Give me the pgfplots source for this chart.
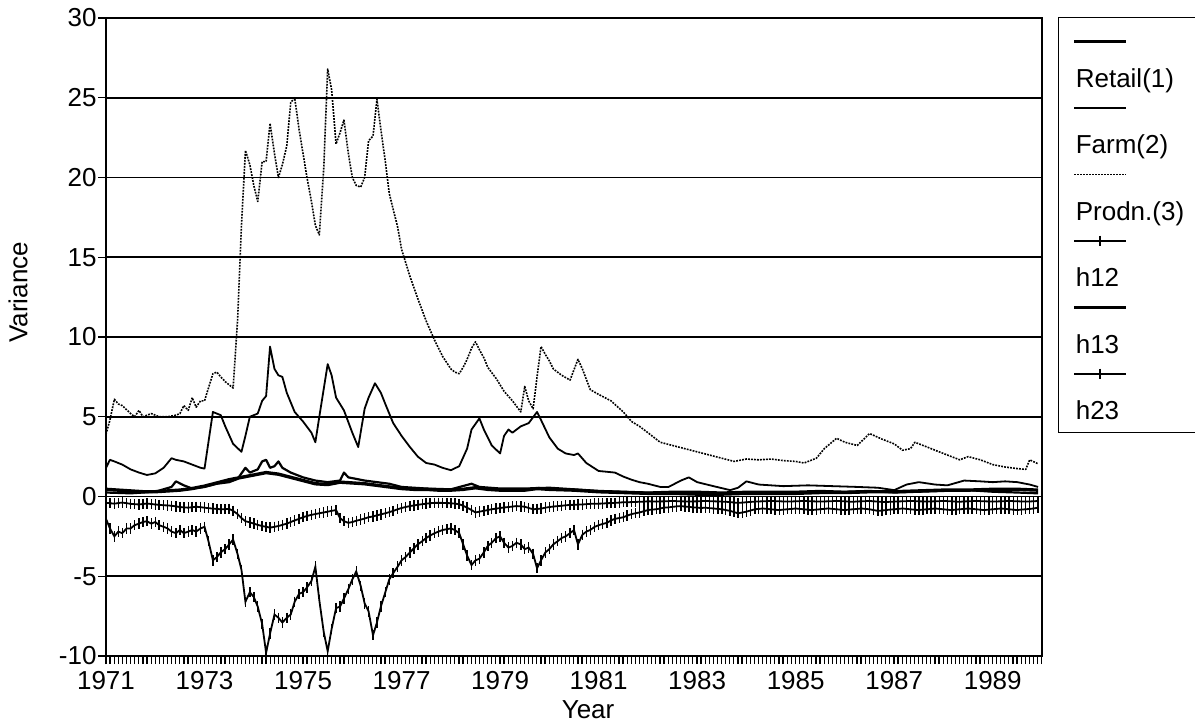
\documentclass[border=0pt]{standalone}
\usepackage{fontspec}
\setmainfont{Liberation Sans}
\usepackage{pgfplots}
\pgfplotsset{compat=1.18}

\begin{document}
\begin{tikzpicture}[font=\fontsize{13pt}{15pt}\selectfont]
\path[use as bounding box] (-53pt,-34.5pt) rectangle (544.5pt,328pt);
\begin{axis}[
    at={(0,0)}, anchor=south west,
    scale only axis, width=468pt, height=319pt,
    xmin=1971, xmax=1990, ymin=-10, ymax=30,
    xtick={1971,1973,...,1989},
    xticklabels={1971,1973,1975,1977,1979,1981,1983,1985,1987,1989},
    minor xtick={1971,1971.0833333,...,1990},
    ytick={-10,-5,...,30},
    yticklabels={-10,-5,0,5,10,15,20,25,30},
    ymajorgrids,
    major grid style={black, line width=0.8pt},
    axis line style={line width=0.6pt},
    tick align=outside, xtick pos=bottom, ytick pos=left,
    major tick length=4pt, minor tick length=4pt,
    tick style={black, line width=0.6pt},
    xticklabel style={yshift=0pt},
    yticklabel style={xshift=2.8pt},
    xlabel={Year}, ylabel={Variance},
    every axis x label/.style={at={(axis description cs:0.515,0)}, yshift=-31pt, anchor=base},
    every axis y label/.style={at={(axis description cs:0,0.57)}, xshift=-44pt, rotate=90, anchor=center},
    legend style={at={(1,1)}, anchor=north west, xshift=8pt, yshift=0.5pt,
        draw=black, inner xsep=7pt, inner ysep=4pt, row sep=0.25pt, column sep=0pt,
        cells={anchor=base west},
        nodes={text height=31pt, text depth=2pt, inner sep=0pt, text width=53.5pt, align=left}},
    legend image code/.code={\path (0pt,0pt);
        \draw[mark repeat=2,mark phase=2,#1,overlay] plot coordinates {(0pt,23pt) (13pt,23pt) (26pt,23pt)};},
]

% Retail(1)
\addplot[black, line width=1.7pt, line join=round] coordinates {
(1971.00,0.45) (1971.25,0.40) (1971.50,0.35) (1971.75,0.30) (1972.00,0.30)
(1972.25,0.35) (1972.50,0.40) (1972.75,0.50) (1973.00,0.65) (1973.25,0.85)
(1973.50,1.05) (1973.75,1.20) (1974.00,1.35) (1974.25,1.50) (1974.50,1.40)
(1974.75,1.20) (1975.00,1.00) (1975.25,0.80) (1975.50,0.75) (1975.75,0.90)
(1976.00,0.85) (1976.25,0.80) (1976.50,0.70) (1976.75,0.60) (1977.00,0.50)
(1977.25,0.45) (1977.50,0.45) (1977.75,0.40) (1978.00,0.40) (1978.25,0.45)
(1978.50,0.55) (1978.75,0.45) (1979.00,0.40) (1979.50,0.40) (1979.75,0.50)
(1980.00,0.45) (1980.50,0.40) (1981.00,0.30) (1981.50,0.25) (1982.00,0.20)
(1982.50,0.20) (1983.00,0.15) (1983.50,0.15) (1984.00,0.20) (1984.50,0.20)
(1985.00,0.20) (1985.50,0.25) (1986.00,0.25) (1986.50,0.30) (1987.00,0.30)
(1987.50,0.35) (1988.00,0.40) (1988.50,0.40) (1989.00,0.45) (1989.50,0.45)
(1989.92,0.40)
};
\addlegendentry{Retail(1)}

% Farm(2)
\addplot[black, line width=0.9pt, line join=round] coordinates {
(1971.00,1.80) (1971.08,2.30) (1971.17,2.20) (1971.33,2.00) (1971.50,1.70)
(1971.67,1.50) (1971.83,1.35) (1972.00,1.45) (1972.17,1.80) (1972.33,2.40)
(1972.42,2.30) (1972.58,2.20) (1972.75,2.00) (1972.92,1.80) (1973.00,1.75)
(1973.17,5.30) (1973.33,5.10) (1973.42,4.40) (1973.58,3.30) (1973.75,2.80)
(1973.83,3.80) (1973.92,5.00) (1974.00,5.10) (1974.08,5.20) (1974.17,6.00)
(1974.25,6.30) (1974.33,9.40) (1974.42,8.00) (1974.50,7.60) (1974.58,7.50)
(1974.67,6.50) (1974.83,5.30) (1975.00,4.70) (1975.17,4.00) (1975.25,3.40)
(1975.33,5.00) (1975.50,8.30) (1975.58,7.60) (1975.67,6.20) (1975.83,5.40)
(1976.00,4.00) (1976.12,3.10) (1976.25,5.50) (1976.33,6.20) (1976.46,7.10)
(1976.58,6.50) (1976.67,5.80) (1976.83,4.60) (1977.00,3.80) (1977.17,3.10)
(1977.33,2.50) (1977.50,2.10) (1977.67,2.00) (1977.83,1.80) (1978.00,1.65)
(1978.17,1.90) (1978.33,3.00) (1978.42,4.20) (1978.58,4.90) (1978.67,4.20)
(1978.83,3.20) (1979.00,2.70) (1979.08,3.80) (1979.17,4.20) (1979.25,4.00)
(1979.42,4.40) (1979.58,4.60) (1979.75,5.30) (1979.83,4.80) (1980.00,3.70)
(1980.17,3.00) (1980.33,2.70) (1980.50,2.60) (1980.58,2.70) (1980.75,2.10)
(1981.00,1.60) (1981.17,1.55) (1981.33,1.50) (1981.50,1.25) (1981.67,1.05)
(1981.83,0.90) (1982.00,0.80) (1982.25,0.60) (1982.42,0.60) (1982.67,1.00)
(1982.83,1.20) (1983.00,0.90) (1983.33,0.65) (1983.67,0.40) (1983.83,0.55)
(1984.00,0.95) (1984.25,0.75) (1984.75,0.65) (1985.25,0.70) (1985.75,0.65)
(1986.25,0.60) (1986.67,0.55) (1987.00,0.40) (1987.25,0.75) (1987.50,0.90)
(1987.83,0.75) (1988.08,0.70) (1988.42,1.00) (1988.75,0.95) (1989.00,0.90)
(1989.25,0.95) (1989.50,0.90) (1989.75,0.75) (1989.92,0.60)
};
\addlegendentry{Farm(2)}

% Prodn.(3)
\addplot[black, line width=0.8pt, dash pattern=on 0.9pt off 0.6pt, line join=round] coordinates {
(1971.00,3.90) (1971.08,4.80) (1971.17,6.10) (1971.25,5.80) (1971.33,5.70)
(1971.50,5.20) (1971.58,5.00) (1971.67,5.40) (1971.75,5.00) (1971.92,5.20)
(1972.08,5.00) (1972.25,5.00) (1972.42,5.10) (1972.50,5.20) (1972.58,5.70)
(1972.67,5.40) (1972.75,6.20) (1972.83,5.60) (1972.92,6.00) (1973.00,6.00)
(1973.08,6.80) (1973.17,7.70) (1973.25,7.80) (1973.33,7.50) (1973.42,7.20)
(1973.58,6.80) (1973.67,11.0) (1973.75,17.0) (1973.83,21.7) (1973.92,20.8)
(1974.00,19.5) (1974.08,18.5) (1974.17,21.0) (1974.25,21.0) (1974.33,23.4)
(1974.42,21.5) (1974.50,20.0) (1974.58,20.8) (1974.67,22.0) (1974.75,24.7)
(1974.83,25.0) (1974.92,23.0) (1975.00,21.5) (1975.08,20.0) (1975.17,18.5)
(1975.25,17.0) (1975.33,16.4) (1975.42,20.6) (1975.50,26.8) (1975.58,25.5)
(1975.67,22.1) (1975.75,22.8) (1975.83,23.6) (1975.92,21.5) (1976.00,20.0)
(1976.08,19.5) (1976.17,19.4) (1976.25,20.0) (1976.33,22.3) (1976.42,22.6)
(1976.50,24.9) (1976.58,23.0) (1976.67,21.0) (1976.75,19.0) (1976.83,18.0)
(1976.92,16.9) (1977.00,15.5) (1977.17,13.8) (1977.33,12.4) (1977.50,11.0)
(1977.67,9.80) (1977.83,8.80) (1978.00,8.00) (1978.08,7.80) (1978.17,7.70)
(1978.25,8.10) (1978.33,8.60) (1978.42,9.30) (1978.50,9.70) (1978.58,9.20)
(1978.67,8.70) (1978.75,8.10) (1978.92,7.40) (1979.08,6.60) (1979.25,6.00)
(1979.42,5.30) (1979.50,6.90) (1979.58,6.00) (1979.67,5.50) (1979.75,7.50)
(1979.83,9.40) (1979.92,8.90) (1980.00,8.50) (1980.08,8.00) (1980.25,7.60)
(1980.42,7.30) (1980.58,8.60) (1980.67,8.00) (1980.83,6.70) (1981.00,6.40)
(1981.25,6.00) (1981.50,5.30) (1981.67,4.70) (1981.83,4.40) (1982.00,4.00)
(1982.25,3.40) (1982.50,3.20) (1982.75,3.00) (1983.00,2.80) (1983.25,2.60)
(1983.50,2.40) (1983.75,2.20) (1984.00,2.35) (1984.25,2.30) (1984.50,2.35)
(1984.75,2.25) (1985.00,2.20) (1985.17,2.10) (1985.42,2.40) (1985.58,3.00)
(1985.83,3.65) (1986.00,3.40) (1986.25,3.20) (1986.50,3.95) (1986.75,3.60)
(1987.00,3.30) (1987.17,2.90) (1987.33,3.00) (1987.42,3.40) (1987.67,3.10)
(1987.83,2.90) (1988.08,2.60) (1988.33,2.30) (1988.50,2.50) (1988.75,2.30)
(1989.00,2.00) (1989.25,1.85) (1989.50,1.75) (1989.67,1.70) (1989.75,2.30)
(1989.92,2.05)
};
\addlegendentry{Prodn.(3)}

% h12
\addplot[black, line width=0.9pt, mark=|, mark size=2.6pt, mark options={solid, line width=0.75pt}] coordinates {
(1971.00,-1.40) (1971.08,-2.00) (1971.17,-2.50) (1971.25,-2.20) (1971.33,-2.30)
(1971.42,-2.00) (1971.50,-2.00) (1971.58,-1.80) (1971.67,-1.70) (1971.75,-1.60)
(1971.83,-1.55) (1971.92,-1.70) (1972.00,-1.60) (1972.08,-1.80) (1972.17,-1.90)
(1972.25,-2.00) (1972.33,-2.20) (1972.42,-2.30) (1972.50,-2.10) (1972.58,-2.30)
(1972.67,-2.20) (1972.75,-2.10) (1972.83,-2.20) (1972.92,-2.00) (1973.00,-1.90)
(1973.08,-2.80) (1973.17,-4.00) (1973.25,-3.80) (1973.33,-3.50) (1973.42,-3.30)
(1973.50,-3.00) (1973.58,-2.70) (1973.67,-3.60) (1973.75,-4.60) (1973.83,-6.60)
(1973.92,-6.00) (1974.00,-6.30) (1974.08,-6.90) (1974.17,-8.00) (1974.25,-9.80)
(1974.33,-8.60) (1974.42,-7.40) (1974.50,-7.60) (1974.58,-7.90) (1974.67,-7.60)
(1974.75,-7.40) (1974.83,-6.60) (1974.92,-6.10) (1975.00,-6.00) (1975.08,-5.70)
(1975.17,-5.30) (1975.25,-4.40) (1975.33,-6.50) (1975.42,-8.50) (1975.50,-9.70)
(1975.58,-8.30) (1975.67,-7.00) (1975.75,-6.90) (1975.83,-6.40) (1975.92,-5.80)
(1976.00,-5.20) (1976.08,-4.70) (1976.17,-5.60) (1976.25,-6.70) (1976.33,-7.20)
(1976.42,-8.70) (1976.50,-7.90) (1976.58,-6.90) (1976.67,-6.00) (1976.75,-5.20)
(1976.83,-4.80) (1976.92,-4.40) (1977.00,-4.00) (1977.08,-3.80) (1977.17,-3.50)
(1977.25,-3.25) (1977.33,-3.00) (1977.42,-2.80) (1977.50,-2.60) (1977.58,-2.45)
(1977.67,-2.30) (1977.75,-2.20) (1977.83,-2.10) (1977.92,-2.05) (1978.00,-2.00)
(1978.08,-2.10) (1978.17,-2.30) (1978.25,-3.00) (1978.33,-3.70) (1978.42,-4.30)
(1978.50,-4.00) (1978.58,-3.90) (1978.67,-3.50) (1978.75,-3.10) (1978.83,-2.90)
(1978.92,-2.60) (1979.00,-2.50) (1979.08,-2.90) (1979.17,-3.20) (1979.25,-3.10)
(1979.33,-2.90) (1979.42,-3.00) (1979.50,-3.30) (1979.58,-3.20) (1979.67,-3.60)
(1979.75,-4.50) (1979.83,-4.00) (1979.92,-3.50) (1980.00,-3.30) (1980.08,-3.00)
(1980.17,-2.80) (1980.25,-2.60) (1980.33,-2.50) (1980.42,-2.30) (1980.50,-2.10)
(1980.58,-3.00) (1980.67,-2.40) (1980.75,-2.20) (1980.83,-2.10) (1980.92,-1.90)
(1981.00,-1.80) (1981.08,-1.72) (1981.17,-1.65) (1981.25,-1.50) (1981.33,-1.40)
(1981.42,-1.35) (1981.50,-1.30) (1981.58,-1.20) (1981.67,-1.10) (1981.75,-1.05)
(1981.83,-1.00) (1981.92,-0.92)
(1982.00,-0.85) (1982.08,-0.82) (1982.17,-0.80) (1982.25,-0.75) (1982.33,-0.70) (1982.42,-0.68)
(1982.50,-0.65) (1982.58,-0.62) (1982.67,-0.60) (1982.75,-0.63) (1982.83,-0.65) (1982.92,-0.68)
(1983.00,-0.70) (1983.08,-0.72) (1983.17,-0.70) (1983.25,-0.73) (1983.33,-0.75) (1983.42,-0.78)
(1983.50,-0.80) (1983.58,-0.85) (1983.67,-0.90) (1983.75,-0.98) (1983.83,-1.05) (1983.92,-1.00)
(1984.00,-0.95) (1984.08,-0.88) (1984.17,-0.80) (1984.25,-0.78) (1984.33,-0.75) (1984.42,-0.78)
(1984.50,-0.80) (1984.58,-0.83) (1984.67,-0.85) (1984.75,-0.82) (1984.83,-0.80) (1984.92,-0.78)
(1985.00,-0.75) (1985.08,-0.78) (1985.17,-0.80) (1985.25,-0.83) (1985.33,-0.85) (1985.42,-0.82)
(1985.50,-0.80) (1985.58,-0.77) (1985.67,-0.75) (1985.75,-0.78) (1985.83,-0.80) (1985.92,-0.83)
(1986.00,-0.85) (1986.08,-0.82) (1986.17,-0.80) (1986.25,-0.78) (1986.33,-0.75) (1986.42,-0.78)
(1986.50,-0.80) (1986.58,-0.85) (1986.67,-0.90) (1986.75,-0.88) (1986.83,-0.85) (1986.92,-0.82)
(1987.00,-0.80) (1987.08,-0.78) (1987.17,-0.75) (1987.25,-0.78) (1987.33,-0.80) (1987.42,-0.83)
(1987.50,-0.85) (1987.58,-0.82) (1987.67,-0.80) (1987.75,-0.78) (1987.83,-0.75) (1987.92,-0.78)
(1988.00,-0.80) (1988.08,-0.83) (1988.17,-0.85) (1988.25,-0.82) (1988.33,-0.80) (1988.42,-0.78)
(1988.50,-0.75) (1988.58,-0.78) (1988.67,-0.80) (1988.75,-0.83) (1988.83,-0.85) (1988.92,-0.82)
(1989.00,-0.80) (1989.08,-0.78) (1989.17,-0.75) (1989.25,-0.78) (1989.33,-0.80) (1989.42,-0.83)
(1989.50,-0.85) (1989.58,-0.82) (1989.67,-0.80) (1989.75,-0.78) (1989.83,-0.75) (1989.92,-0.70)
};
\addlegendentry{h12}

% h13
\addplot[black, line width=1.1pt, line join=round] coordinates {
(1971.00,0.25) (1971.50,0.20) (1972.00,0.30) (1972.33,0.60) (1972.42,0.95)
(1972.58,0.70) (1972.75,0.50) (1973.00,0.60) (1973.25,0.80) (1973.50,0.90)
(1973.67,1.10) (1973.83,1.80) (1973.92,1.50) (1974.00,1.60) (1974.08,1.70)
(1974.17,2.20) (1974.25,2.30) (1974.33,1.80) (1974.42,1.90) (1974.50,2.20)
(1974.58,1.80) (1974.75,1.50) (1975.00,1.20) (1975.25,1.00) (1975.50,0.90)
(1975.75,1.00) (1975.83,1.50) (1975.92,1.20) (1976.25,1.00) (1976.50,0.90)
(1976.75,0.80) (1977.00,0.60) (1977.50,0.50) (1978.00,0.45) (1978.42,0.80)
(1978.58,0.60) (1979.00,0.50) (1979.50,0.50) (1980.00,0.55) (1980.50,0.45)
(1981.00,0.35) (1981.50,0.30) (1982.00,0.25) (1982.50,0.30) (1983.00,0.30)
(1983.50,0.25) (1984.00,0.30) (1984.50,0.30) (1985.00,0.30) (1985.50,0.35)
(1986.00,0.30) (1986.50,0.35) (1987.00,0.25) (1987.50,0.30) (1988.00,0.35)
(1988.50,0.40) (1989.00,0.30) (1989.50,0.25) (1989.92,0.20)
};
\addlegendentry{h13}

% h23
\addplot[black, line width=0.9pt, mark=|, mark size=2.6pt, mark options={solid, line width=0.75pt}] coordinates {
(1971.00,-0.40) (1971.08,-0.42) (1971.17,-0.45) (1971.25,-0.41) (1971.33,-0.38) (1971.42,-0.42)
(1971.50,-0.46) (1971.58,-0.48) (1971.67,-0.50) (1971.75,-0.47) (1971.83,-0.44) (1971.92,-0.47)
(1972.00,-0.50) (1972.08,-0.52) (1972.17,-0.55) (1972.25,-0.56) (1972.33,-0.58) (1972.42,-0.62)
(1972.50,-0.66) (1972.58,-0.68) (1972.67,-0.70) (1972.75,-0.67) (1972.83,-0.64) (1972.92,-0.67)
(1973.00,-0.70) (1973.08,-0.73) (1973.17,-0.76) (1973.25,-0.78) (1973.33,-0.80) (1973.42,-0.79)
(1973.50,-0.78) (1973.58,-0.90) (1973.67,-1.10) (1973.75,-1.35) (1973.83,-1.55) (1973.92,-1.62)
(1974.00,-1.70) (1974.08,-1.78) (1974.17,-1.85) (1974.25,-1.90) (1974.33,-1.95) (1974.42,-1.90)
(1974.50,-1.85) (1974.58,-1.78) (1974.67,-1.70) (1974.75,-1.60) (1974.83,-1.50) (1974.92,-1.40)
(1975.00,-1.30) (1975.08,-1.22) (1975.17,-1.15) (1975.25,-1.10) (1975.33,-1.05) (1975.42,-1.00)
(1975.50,-0.95) (1975.58,-0.90) (1975.67,-0.85) (1975.75,-1.35) (1975.83,-1.55) (1975.92,-1.65)
(1976.00,-1.60) (1976.08,-1.52) (1976.17,-1.45) (1976.25,-1.38) (1976.33,-1.30) (1976.42,-1.25)
(1976.50,-1.18) (1976.58,-1.12) (1976.67,-1.05) (1976.75,-0.98) (1976.83,-0.90) (1976.92,-0.80)
(1977.00,-0.72) (1977.08,-0.66) (1977.17,-0.60) (1977.25,-0.56) (1977.33,-0.52) (1977.42,-0.48)
(1977.50,-0.45) (1977.58,-0.42) (1977.67,-0.40) (1977.75,-0.40) (1977.83,-0.40) (1977.92,-0.41)
(1978.00,-0.42) (1978.08,-0.45) (1978.17,-0.48) (1978.25,-0.58) (1978.33,-0.70) (1978.42,-0.85)
(1978.50,-1.00) (1978.58,-0.95) (1978.67,-0.90) (1978.75,-0.85) (1978.83,-0.80) (1978.92,-0.76)
(1979.00,-0.72) (1979.08,-0.69) (1979.17,-0.66) (1979.25,-0.63) (1979.33,-0.60) (1979.42,-0.62)
(1979.50,-0.64) (1979.58,-0.72) (1979.67,-0.80) (1979.75,-0.78) (1979.83,-0.76) (1979.92,-0.70)
(1980.00,-0.66) (1980.08,-0.63) (1980.17,-0.60) (1980.25,-0.58) (1980.33,-0.55) (1980.42,-0.53)
(1980.50,-0.52) (1980.58,-0.51) (1980.67,-0.50) (1980.75,-0.48) (1980.83,-0.46) (1980.92,-0.45)
(1981.00,-0.45) (1981.08,-0.44) (1981.17,-0.42) (1981.25,-0.41) (1981.33,-0.40) (1981.42,-0.38)
(1981.50,-0.36) (1981.58,-0.36) (1981.67,-0.35) (1981.75,-0.34) (1981.83,-0.33) (1981.92,-0.32)
(1982.00,-0.30) (1982.08,-0.31) (1982.17,-0.32) (1982.25,-0.31) (1982.33,-0.30) (1982.42,-0.29)
(1982.50,-0.28) (1982.58,-0.29) (1982.67,-0.30) (1982.75,-0.31) (1982.83,-0.32) (1982.92,-0.31)
(1983.00,-0.30) (1983.08,-0.29) (1983.17,-0.28) (1983.25,-0.29) (1983.33,-0.30) (1983.42,-0.31)
(1983.50,-0.32) (1983.58,-0.33) (1983.67,-0.35) (1983.75,-0.38) (1983.83,-0.40) (1983.92,-0.38)
(1984.00,-0.36) (1984.08,-0.34) (1984.17,-0.32) (1984.25,-0.31) (1984.33,-0.30) (1984.42,-0.29)
(1984.50,-0.28) (1984.58,-0.29) (1984.67,-0.30) (1984.75,-0.31) (1984.83,-0.32) (1984.92,-0.31)
(1985.00,-0.30) (1985.08,-0.29) (1985.17,-0.28) (1985.25,-0.29) (1985.33,-0.30) (1985.42,-0.31)
(1985.50,-0.32) (1985.58,-0.31) (1985.67,-0.30) (1985.75,-0.29) (1985.83,-0.28) (1985.92,-0.29)
(1986.00,-0.30) (1986.08,-0.32) (1986.17,-0.33) (1986.25,-0.31) (1986.33,-0.30) (1986.42,-0.29)
(1986.50,-0.28) (1986.58,-0.30) (1986.67,-0.32) (1986.75,-0.34) (1986.83,-0.35) (1986.92,-0.33)
(1987.00,-0.32) (1987.08,-0.31) (1987.17,-0.30) (1987.25,-0.29) (1987.33,-0.28) (1987.42,-0.29)
(1987.50,-0.30) (1987.58,-0.31) (1987.67,-0.32) (1987.75,-0.31) (1987.83,-0.30) (1987.92,-0.29)
(1988.00,-0.28) (1988.08,-0.29) (1988.17,-0.30) (1988.25,-0.32) (1988.33,-0.33) (1988.42,-0.31)
(1988.50,-0.30) (1988.58,-0.29) (1988.67,-0.28) (1988.75,-0.29) (1988.83,-0.30) (1988.92,-0.31)
(1989.00,-0.32) (1989.08,-0.31) (1989.17,-0.30) (1989.25,-0.29) (1989.33,-0.28) (1989.42,-0.29)
(1989.50,-0.30) (1989.58,-0.31) (1989.67,-0.32) (1989.75,-0.31) (1989.83,-0.30) (1989.92,-0.28)
};
\addlegendentry{h23}

\end{axis}
\end{tikzpicture}
\end{document}
